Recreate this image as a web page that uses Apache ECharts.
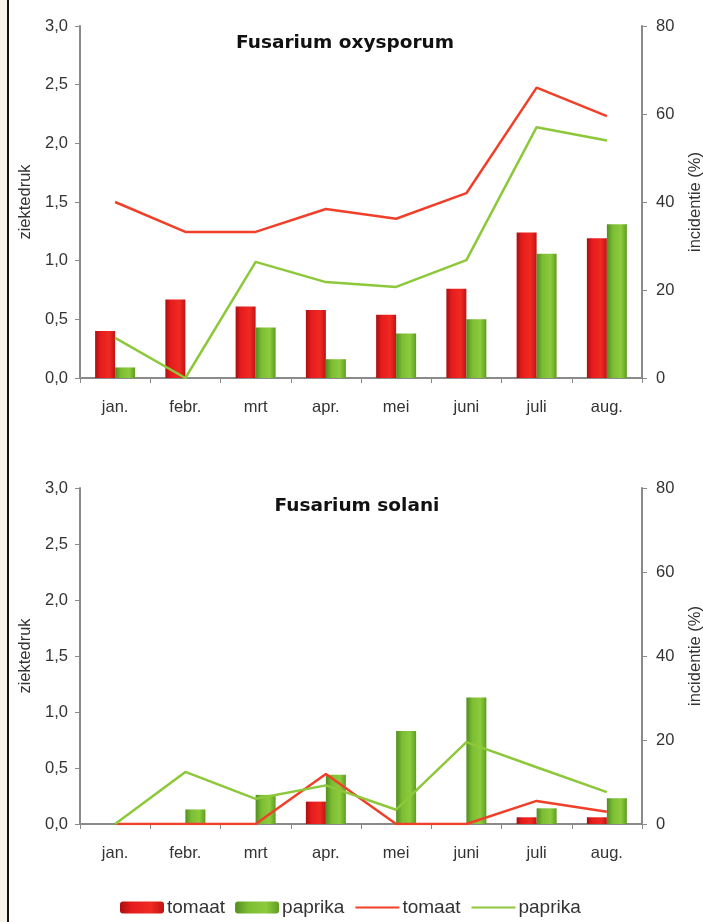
<!DOCTYPE html>
<html>
<head>
<meta charset="utf-8">
<script src="https://cdn.jsdelivr.net/npm/echarts@6/dist/echarts.min.js"></script>
<style>
html,body{margin:0;padding:0;background:#fff;overflow:hidden;}
#wrap{position:relative;width:703px;height:922px;overflow:hidden;}
#strip{position:absolute;left:0;top:0;width:7px;height:922px;background:#f7f2ea;}
#edge{position:absolute;left:7px;top:0;width:2px;height:922px;background:#111;}
#chart{position:absolute;left:0;top:0;width:703px;height:922px;}
</style>
</head>
<body>
<div id="wrap"><div id="chart"></div><div id="strip"></div><div id="edge"></div></div>
<script>
const months = ['jan.', 'febr.', 'mrt', 'apr.', 'mei', 'juni', 'juli', 'aug.'];
const titles = ['Fusarium oxysporum', 'Fusarium solani'];
const leftTicks = [0, 0.5, 1.0, 1.5, 2.0, 2.5, 3.0];
const rightTicks = [0, 20, 40, 60, 80];

// Fusarium oxysporum
const oxyBarTomaat  = [0.40, 0.67, 0.61, 0.58, 0.54, 0.76, 1.24, 1.19];
const oxyBarPaprika = [0.09, 0.00, 0.43, 0.16, 0.38, 0.50, 1.06, 1.31];
const oxyLineTomaat  = [40, 33.2, 33.2, 38.4, 36.2, 42, 66, 59.5];
const oxyLinePaprika = [9.1, 0, 26.4, 21.8, 20.7, 26.8, 57, 54];

// Fusarium solani
const solBarTomaat  = [0, 0, 0, 0.20, 0, 0, 0.06, 0.06];
const solBarPaprika = [0, 0.13, 0.26, 0.44, 0.83, 1.13, 0.14, 0.23];
const solLineTomaat  = [0, 0, 0, 11.9, 0, 0, 5.5, 2.9];
const solLinePaprika = [0, 12.4, 6.0, 9.2, 3.4, 19.5, 13.5, 7.6];

const FONT = '"Liberation Sans", Arial, sans-serif';
const redBar = new echarts.graphic.LinearGradient(0, 0, 1, 0, [
  {offset: 0, color: '#a80f10'}, {offset: 0.25, color: '#e41b1c'},
  {offset: 0.7, color: '#f02a22'}, {offset: 1, color: '#c01414'}]);
const greenBar = new echarts.graphic.LinearGradient(0, 0, 1, 0, [
  {offset: 0, color: '#4f8f1e'}, {offset: 0.3, color: '#7dbd34'},
  {offset: 0.7, color: '#8ccb3c'}, {offset: 1, color: '#5e9d22'}]);
const lineRed = '#f0402a';
const lineGreen = '#8cc83a';
const axisCol = '#8a8a8a';
const labelCol = '#333333';

const grids = [
  {left: 80, right: 61, top: 26, bottom: 544, outerBoundsMode: 'none', containLabel: false},
  {left: 80, right: 61, top: 488, bottom: 98, outerBoundsMode: 'none', containLabel: false}
];

const xAxes = grids.map((g, i) => ({
  type: 'category', gridIndex: i, data: months,
  axisLine: {lineStyle: {color: axisCol, width: 2}},
  axisTick: {show: true, length: 5, lineStyle: {color: axisCol}},
  axisLabel: {color: labelCol, fontFamily: FONT, fontSize: 16.5, margin: 21}
}));

const yAxes = [];
grids.forEach((g, i) => {
  yAxes.push({
    type: 'value', gridIndex: i, min: 0, max: 3, interval: 0.5, position: 'left',
    name: 'ziektedruk', nameLocation: 'middle', nameRotate: 90, nameGap: 45,
    nameTextStyle: {color: labelCol, fontFamily: FONT, fontSize: 16.5},
    axisLine: {show: true, lineStyle: {color: axisCol, width: 2}},
    axisTick: {show: true, length: 5, lineStyle: {color: axisCol}},
    splitLine: {show: false},
    axisLabel: {color: labelCol, fontFamily: FONT, fontSize: 16.5, margin: 12,
      formatter: v => v.toFixed(1).replace('.', ',')}
  });
  yAxes.push({
    type: 'value', gridIndex: i, min: 0, max: 80, interval: 20, position: 'right',
    name: 'incidentie (%)', nameLocation: 'middle', nameRotate: 90, nameGap: 45,
    nameTextStyle: {color: labelCol, fontFamily: FONT, fontSize: 16.5},
    axisLine: {show: true, lineStyle: {color: axisCol, width: 2}},
    axisTick: {show: true, length: 5, lineStyle: {color: axisCol}},
    splitLine: {show: false},
    axisLabel: {color: labelCol, fontFamily: FONT, fontSize: 16.5, margin: 14}
  });
});

function bar(name, data, color, gi) {
  return {type: 'bar', name: name, data: data, xAxisIndex: gi, yAxisIndex: gi * 2,
    barWidth: 20, barGap: '0%', itemStyle: {color: color}, z: 2};
}
function line(name, data, color, gi) {
  return {type: 'line', name: name, data: data, xAxisIndex: gi, yAxisIndex: gi * 2 + 1,
    symbol: 'none', lineStyle: {color: color, width: 2.5}, itemStyle: {color: color}, z: 3};
}

const legendText = {'tomaat-bar': 'tomaat', 'paprika-bar': 'paprika',
  'tomaat-lijn': 'tomaat', 'paprika-lijn': 'paprika'};

const titleStyle = {fontFamily: '"DejaVu Sans", sans-serif', fontWeight: 'bold', fontSize: 18.5, color: '#111'};

const option = {
  animation: false,
  backgroundColor: '#ffffff',
  title: [
    {text: titles[0], left: 340, top: 29, textAlign: 'center', textStyle: titleStyle},
    {text: titles[1], left: 352, top: 492, textAlign: 'center', textStyle: titleStyle}
  ],
  legend: {
    bottom: 0, left: 115, itemWidth: 44, itemHeight: 12, itemGap: 10,
    data: [
      {name: 'tomaat-bar'},
      {name: 'paprika-bar'},
      {name: 'tomaat-lijn', itemStyle: {opacity: 0}, lineStyle: {width: 2}},
      {name: 'paprika-lijn', itemStyle: {opacity: 0}, lineStyle: {width: 2}}
    ],
    formatter: n => legendText[n],
    textStyle: {color: labelCol, fontFamily: FONT, fontSize: 19, padding: [0, 0, 0, -2]}
  },
  grid: grids,
  xAxis: xAxes,
  yAxis: yAxes,
  series: [
    bar('tomaat-bar', oxyBarTomaat, redBar, 0),
    bar('paprika-bar', oxyBarPaprika, greenBar, 0),
    line('tomaat-lijn', oxyLineTomaat, lineRed, 0),
    line('paprika-lijn', oxyLinePaprika, lineGreen, 0),
    bar('tomaat-bar', solBarTomaat, redBar, 1),
    bar('paprika-bar', solBarPaprika, greenBar, 1),
    line('tomaat-lijn', solLineTomaat, lineRed, 1),
    line('paprika-lijn', solLinePaprika, lineGreen, 1)
  ]
};

const chart = echarts.init(document.getElementById('chart'), null, {renderer: 'canvas'});
chart.setOption(option);
</script>
</body>
</html>
